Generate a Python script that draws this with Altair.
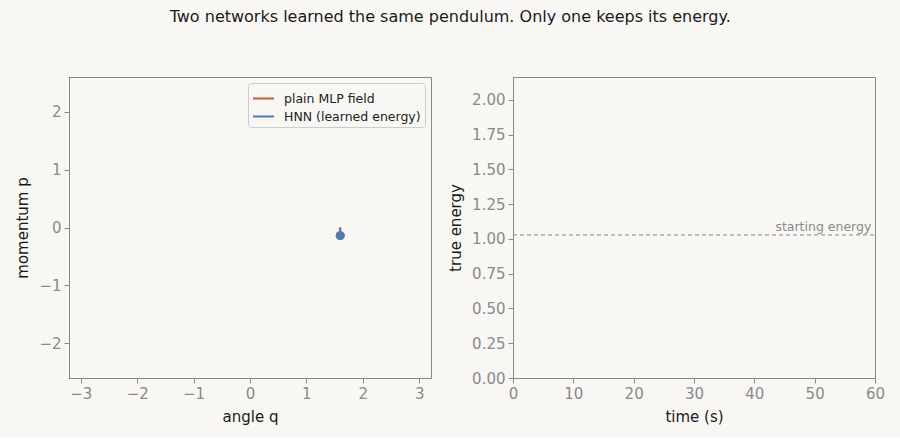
import altair as alt
import pandas as pd

# ---- data ----
models = ["plain MLP field", "HNN (learned energy)"]
colors = ["#c65a3a", "#4a7db8"]
traj_q = [1.60, 1.60]
traj_p = [0.0, -0.14]
energy_t = [0.0, 0.05]
energy_E = [1.029, 1.029]
start_energy = 1.029

rows = []
for m in models:
    for q, p in zip(traj_q, traj_p):
        rows.append({"model": m, "q": q, "p": p})
traj = pd.DataFrame(rows)
head = pd.DataFrame({"model": models, "q": [traj_q[-1]] * 2, "p": [traj_p[-1]] * 2})
erows = []
for m in models:
    for t, e in zip(energy_t, energy_E):
        erows.append({"model": m, "t": t, "E": e})
energy = pd.DataFrame(erows)
ref = pd.DataFrame({"E": [start_energy], "t0": [0], "t1": [60], "label": ["starting energy"], "tl": [59.4]})

BG = "#f8f7f4"
cscale = alt.Scale(domain=models, range=colors)
color = alt.Color("model:N", scale=cscale,
                  legend=alt.Legend(title=None, orient="top-right", symbolType="stroke",
                                    symbolStrokeWidth=2, symbolSize=441, labelFontSize=12.5,
                                    labelColor="#222", fillColor=BG, strokeColor="#cccccc",
                                    padding=4, rowPadding=-2, labelOffset=9, cornerRadius=3, offset=6))

W, H = 362, 301
xq = alt.X("q:Q", title="angle q", scale=alt.Scale(domain=[-3.21, 3.21], nice=False, zero=False),
           axis=alt.Axis(values=[-3, -2, -1, 0, 1, 2, 3]))
yp = alt.Y("p:Q", title="momentum p", scale=alt.Scale(domain=[-2.6, 2.6], nice=False, zero=False),
           axis=alt.Axis(values=[-2, -1, 0, 1, 2]))

left_lines = alt.Chart(traj).mark_line(strokeWidth=2).encode(x=xq, y=yp, color=color, order="model:N")
left_pts = alt.Chart(head).mark_circle(size=80, opacity=1).encode(x=xq, y=yp, color=color)
left = alt.layer(left_lines, left_pts).properties(width=W, height=H)

xt = alt.X("t:Q", title="time (s)", scale=alt.Scale(domain=[0, 60], nice=False),
           axis=alt.Axis(values=[0, 10, 20, 30, 40, 50, 60]))
yE = alt.Y("E:Q", title="true energy", scale=alt.Scale(domain=[0, 2.165], nice=False),
           axis=alt.Axis(values=[0, 0.25, 0.5, 0.75, 1.0, 1.25, 1.5, 1.75, 2.0], format=".2f"))
ref_line = alt.Chart(ref).mark_rule(color="#888888", strokeDash=[4, 3], strokeWidth=1).encode(
    x=alt.X("t0:Q", scale=alt.Scale(domain=[0, 60], nice=False)), x2="t1:Q", y=yE)
ref_text = alt.Chart(ref).mark_text(align="right", baseline="bottom", dy=-1, fontSize=12.5,
                                    color="#8a8a8a", font="DejaVu Sans").encode(
    x=alt.X("tl:Q", scale=alt.Scale(domain=[0, 60], nice=False)), y=yE, text="label:N")
e_lines = alt.Chart(energy).mark_line(strokeWidth=2).encode(
    x=xt, y=yE, color=alt.Color("model:N", scale=alt.Scale(domain=models, range=colors), legend=None))
right = alt.layer(ref_line, ref_text, e_lines).properties(width=W, height=H)

chart = alt.hconcat(left, right, spacing=16).resolve_legend(color="independent").resolve_scale(color="independent").properties(
    title=alt.Title("Two networks learned the same pendulum. Only one keeps its energy.",
                    anchor="middle", frame="bounds", fontSize=16, fontWeight="normal",
                    color="#1a1a1a", font="DejaVu Sans", offset=52),
    background=BG,
    padding={"left": 15, "top": 8, "right": 14, "bottom": 12},
).configure_view(stroke="#888888", strokeWidth=1, fill=BG).configure_axis(
    grid=False, domainColor="#888888", tickColor="#888888", tickSize=5,
    labelColor="#8a8a8a", labelFontSize=15, labelFont="DejaVu Sans",
    titleColor="#1a1a1a", titleFontSize=15, titleFont="DejaVu Sans", titleFontWeight="normal",
    labelPadding=3, titlePadding=8, labelFlush=False,
).configure_legend(labelFont="DejaVu Sans")

chart.save("out.html", embed_options={"renderer": "svg", "actions": False})
